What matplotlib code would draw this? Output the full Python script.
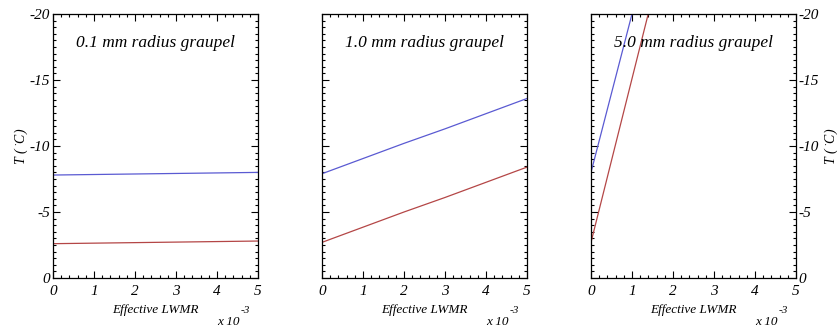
import matplotlib
matplotlib.use("Agg")
import matplotlib.pyplot as plt
from matplotlib.ticker import MultipleLocator

plt.rcParams['font.family'] = ['Liberation Serif', 'DejaVu Serif']
plt.rcParams['font.style'] = 'italic'
plt.rcParams['axes.unicode_minus'] = False
plt.rcParams['mathtext.fontset'] = 'custom'
plt.rcParams['mathtext.it'] = 'Liberation Serif:italic'
plt.rcParams['mathtext.rm'] = 'Liberation Serif:italic'

titles = ['0.1 mm radius graupel', '1.0 mm radius graupel', '5.0 mm radius graupel']

# effective LWMR (x 10^-3) and temperature (C) for each panel
lwmr = [[0, 1, 2, 3, 4, 5],
        [0, 1, 2, 3, 4, 5],
        [0, 0.5, 1.0, 1.5]]
temp_blue = [[-7.8, -7.84, -7.88, -7.92, -7.96, -8.0],
             [-7.9, -9.05, -10.2, -11.3, -12.45, -13.6],
             [-8.0, -14.0, -20.0, -26.0]]
temp_red = [[-2.6, -2.64, -2.68, -2.72, -2.76, -2.8],
            [-2.7, -3.85, -5.0, -6.1, -7.25, -8.4],
            [-2.7, -8.9, -15.1, -21.3]]

W, H = 839, 327
fig = plt.figure(figsize=(W / 100, H / 100), dpi=100)

lefts = [53, 322, 591]
for i, left in enumerate(lefts):
    ax = fig.add_axes([left / W, (H - 278) / H, 205 / W, 264 / H])
    ax.plot(lwmr[i], temp_blue[i], color='#5a5ad2', lw=0.9)
    ax.plot(lwmr[i], temp_red[i], color='#b44646', lw=0.9)
    ax.set_xlim(0, 5)
    ax.set_ylim(0, -20)
    ax.xaxis.set_major_locator(MultipleLocator(1))
    ax.xaxis.set_minor_locator(MultipleLocator(0.2))
    ax.yaxis.set_major_locator(MultipleLocator(5))
    ax.yaxis.set_minor_locator(MultipleLocator(0.5))
    ax.tick_params(which='both', direction='in', top=True, right=True,
                   labelsize=11, width=0.8)
    ax.tick_params(axis='x', pad=5)
    ax.tick_params(axis='y', pad=2)
    ax.tick_params(which='major', length=5)
    ax.tick_params(which='minor', length=2.5)
    for s in ax.spines.values():
        s.set_linewidth(0.9)
    ax.text(0.5, 0.89, titles[i], transform=ax.transAxes, ha='center',
            va='center', fontsize=12.5)
    ax.set_xlabel('Effective LWMR', fontsize=9.5, labelpad=4)
    ylab = r'$T\ (\ ^{\bullet}C)$'
    if i == 0:
        ax.set_ylabel(ylab, fontsize=10)
        ax.yaxis.set_label_coords(-0.112, 0.5)
    elif i == 1:
        ax.tick_params(labelleft=False)
    else:
        ax.tick_params(labelleft=False, labelright=True)
        ax.yaxis.set_label_position('right')
        ax.set_ylabel(ylab, fontsize=10, rotation=90)
        ax.yaxis.set_label_coords(1.13, 0.5)
    for lbl in ax.get_xticklabels() + ax.get_yticklabels():
        lbl.set_fontstyle('italic')
    # exponent note below the axis
    fig.text((left + 187) / W, 1 - 325 / H, 'x 10', fontsize=9.5,
             ha='right', va='baseline')
    fig.text((left + 188) / W, 1 - 313 / H, '-3', fontsize=8,
             ha='left', va='baseline')

fig.savefig('out.png', dpi=100)
